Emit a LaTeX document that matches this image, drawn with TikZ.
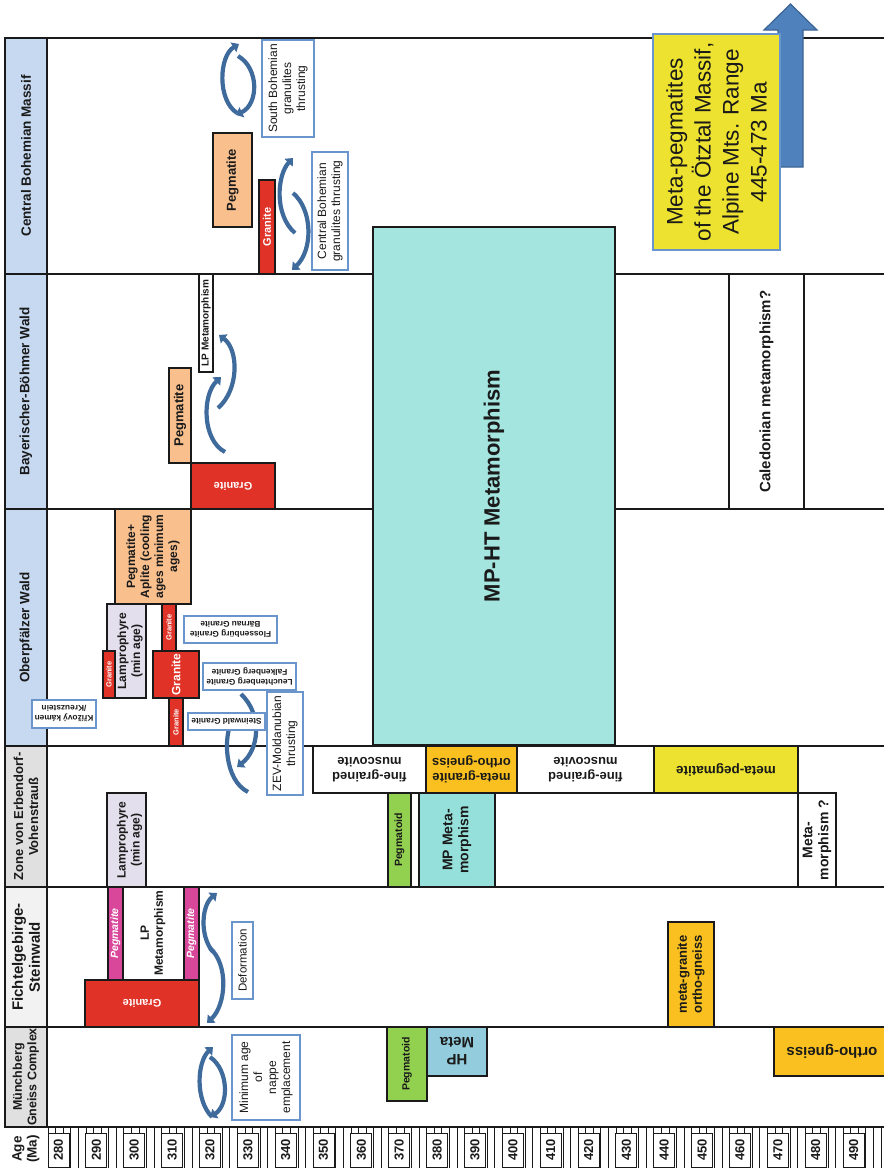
\documentclass[tikz,border=0pt]{standalone}
\usepackage{fontspec}
\setmainfont{Liberation Sans}
\usetikzlibrary{arrows.meta}
\definecolor{hdrblue}{HTML}{C6D9F0}
\definecolor{hdrgray}{HTML}{E0E0E0}
\definecolor{hdrlight}{HTML}{F2F2F2}
\definecolor{granred}{HTML}{E03226}
\definecolor{peach}{HTML}{F9C08E}
\definecolor{lav}{HTML}{E4DFEC}
\definecolor{magent}{HTML}{D9479B}
\definecolor{mphtcyan}{HTML}{A5E5E0}
\definecolor{mpcyan}{HTML}{95E0DA}
\definecolor{hpblue}{HTML}{93CDDD}
\definecolor{pgreen}{HTML}{92D050}
\definecolor{orng}{HTML}{F9C01F}
\definecolor{ylw}{HTML}{ECE22F}
\definecolor{arrblue}{HTML}{3F6B9C}
\definecolor{bigarr}{HTML}{4F81BD}
\definecolor{bigarredge}{HTML}{3C6494}
\definecolor{lblblue}{HTML}{6A95CC}
\definecolor{ink}{HTML}{1A1A1A}
\newcommand\fsz[2]{\fontsize{#1}{#2}\selectfont}
\newcommand\bx[8]{%
  \pgfmathsetmacro\bxw{#5-(#3)}%
  \pgfmathsetmacro\bxh{#6-(#4)}%
  \pgfmathsetmacro\bxx{(#3+#5)/2}%
  \pgfmathsetmacro\bxy{(#4+#6)/2}%
  \node[#2, minimum width=\bxw pt, minimum height=\bxh pt] (#1) at (\bxx,\bxy) {};%
  \node[#7] at (#1.center) {#8};%
}
\begin{document}
\begin{tikzpicture}[x=1pt,y=-1pt,
  blk/.style={draw=ink, line width=2pt, inner sep=0pt, outer sep=0pt},
  lbl/.style={draw=lblblue, line width=1.2pt, fill=white, inner sep=0pt, outer sep=0pt},
  t90/.style={rotate=90, align=center, text=ink, inner sep=0pt},
  t180/.style={rotate=180, align=center, text=ink, inner sep=0pt},
  w90/.style={rotate=90, align=center, text=white, inner sep=0pt},
  w180/.style={rotate=180, align=center, text=white, inner sep=0pt},
  cyc/.style={draw=arrblue, line width=4.2pt, -{Triangle[length=6.5pt,width=11pt]}},
  rowline/.style={draw=ink, line width=2pt}]
\useasboundingbox (0,0) rectangle (884,1168);
\fill[white] (0,0) rectangle (884,1168);

% ---------- row lines ----------
\foreach \yy in {38,274,509,746,887,1027,1127} \draw[rowline] (47,\yy) -- (884,\yy);

% ---------- headers ----------
\bx{hCBM}{blk,fill=hdrblue}{5}{38}{47}{274}{t90,font=\bfseries\fsz{13.5}{16}}{Central Bohemian Massif}
\bx{hBBW}{blk,fill=hdrblue}{5}{274}{47}{509}{t90,font=\bfseries\fsz{13.5}{16}}{Bayerischer-Böhmer Wald}
\bx{hOW}{blk,fill=hdrblue}{5}{509}{47}{746}{t90,font=\bfseries\fsz{13.5}{16}}{Oberpfälzer Wald}
\bx{hZEV}{blk,fill=hdrgray}{5}{746}{47}{887}{t90,font=\bfseries\fsz{13}{15}}{Zone von Erbendorf-\\Vohenstrauß}
\bx{hFS}{blk,fill=hdrlight}{5}{887}{47}{1027}{t90,font=\bfseries\fsz{15}{17}}{Fichtelgebirge-\\Steinwald}
\bx{hMGC}{blk,fill=hdrgray}{5}{1027}{47}{1127}{t90,font=\bfseries\fsz{12.5}{14.5}}{Münchberg\\Gneiss Complex}

% ---------- age axis ----------
\node[t90,font=\bfseries\fsz{13.5}{15}] (agelbl) at (26,1149) {Age\\(Ma)};
\foreach \k in {0,...,110} \draw[ink,line width=0.6pt] ({48+7.572*\k},1127) -- ({48+7.572*\k},1168);
\foreach \a in {280,290,...,490} {
  \pgfmathsetmacro\ax{58.5+3.786*(\a-280)}
  \node[draw=ink, line width=1pt, fill=white, minimum width=21pt, minimum height=34pt, inner sep=0pt] (age\a) at (\ax,1150) {};
  \node[t90,font=\bfseries\fsz{13}{14}] at (age\a) {\a};
}

% ---------- big arrow + Oetztal box ----------
\draw[fill=bigarr, draw=bigarredge, line width=1.2pt] (778,167) -- (778,30) -- (764,30) -- (790.5,4) -- (817,30) -- (803,30) -- (803,167) -- cycle;
\bx{otz}{fill=ylw, draw=lblblue, line width=2.2pt, inner sep=0pt}{653}{34}{780}{250}{t90,font=\fsz{22.5}{28}}{Meta-pegmatites\\of the Ötztal Massif,\\Alpine Mts. Range\\445-473 Ma}

% ---------- MP-HT ----------
\bx{mpht}{blk,fill=mphtcyan}{373}{227}{615}{745}{t90,font=\bfseries\fsz{22}{25}}{MP-HT Metamorphism}

% ---------- Central Bohemian Massif ----------
\bx{cbPeg}{blk,fill=peach}{213}{133}{252}{227}{t90,font=\bfseries\fsz{13}{15}}{Pegmatite}
\bx{cbGra}{blk,fill=granred}{259}{180}{275}{274}{w90,font=\bfseries\fsz{11}{13}}{Granite}

% ---------- Bayerischer-Boehmer Wald ----------
\bx{bbLP}{blk,fill=white}{199}{274}{213}{372}{t90,font=\bfseries\fsz{10}{12}}{LP Metamorphism}
\bx{bbPeg}{blk,fill=peach}{169}{368}{191}{463}{t90,font=\bfseries\fsz{13}{15}}{Pegmatite}
\bx{bbGra}{blk,fill=granred}{191}{463}{275}{509}{w180,font=\bfseries\fsz{11}{13}}{Granite}
\bx{cal}{blk,fill=white}{729}{274}{804}{509}{t90,font=\bfseries\fsz{15}{17}}{Caledonian metamorphism?}

% ---------- Oberpfaelzer Wald ----------
\bx{owPA}{blk,fill=peach}{115}{509}{191}{604}{t90,font=\bfseries\fsz{12}{14}}{Pegmatite+\\Aplite (cooling\\ages minimum\\ages)}
\bx{owLam}{blk,fill=lav}{107}{604}{146}{698}{t90}{}
\node[t90,font=\bfseries\fsz{12}{14}] (owLamT) at (130,651) {Lamprophyre\\(min age)};
\bx{owG1}{blk,fill=granred}{103}{651}{115}{698}{w90,font=\bfseries\fsz{7.5}{9}}{Granite}
\bx{owG2}{blk,fill=granred}{162}{604}{176}{651}{w90,font=\bfseries\fsz{7.5}{9}}{Granite}
\bx{owG3}{blk,fill=granred}{153}{651}{199}{698}{w90,font=\bfseries\fsz{12}{14}}{Granite}
\bx{owG4}{blk,fill=granred}{169}{698}{183}{746}{w90,font=\bfseries\fsz{7.5}{9}}{Granite}

% ---------- Zone von Erbendorf-Vohenstrauss ----------
\bx{zLam}{blk,fill=lav}{107}{793}{146}{887}{t90}{}
\node[t90,font=\bfseries\fsz{12}{14}] (zLamT) at (129.5,840) {Lamprophyre\\(min age)};
\bx{zFg1}{blk,fill=white}{313}{746}{426}{793}{t180,font=\bfseries\fsz{13}{15}}{fine-grained\\muscovite}
\bx{zMg}{blk,fill=orng}{426}{746}{517}{793}{t180,font=\bfseries\fsz{13}{15}}{meta-granite\\ortho-gneiss}
\bx{zFg2}{blk,fill=white}{517}{746}{654}{793}{t180,font=\bfseries\fsz{13}{15}}{fine-grained\\muscovite}
\bx{zMp}{blk,fill=ylw}{654}{746}{798}{793}{t180,font=\bfseries\fsz{13.5}{15}}{meta-pegmatite}
\bx{zPgd}{blk,fill=pgreen}{388}{793}{411}{887}{t90,font=\bfseries\fsz{10.5}{12}}{Pegmatoid}
\bx{zMP}{blk,fill=mpcyan}{419}{793}{495}{887}{t90,font=\bfseries\fsz{14}{16}}{MP Meta-\\morphism}
\bx{zMet}{blk,fill=white}{798}{793}{836}{887}{t90,font=\bfseries\fsz{14}{16}}{Meta-\\morphism ?}

% ---------- Fichtelgebirge-Steinwald ----------
\bx{fP1}{blk,fill=magent}{108}{887}{123}{980}{w90,font=\bfseries\itshape\fsz{10.5}{12}}{Pegmatite}
\bx{fP2}{blk,fill=magent}{184}{887}{199}{980}{w90,font=\bfseries\itshape\fsz{10.5}{12}}{Pegmatite}
\node[t90,font=\bfseries\fsz{12}{14}] (fLP) at (153,933) {LP\\Metamorphism};
\bx{fGra}{blk,fill=granred}{85}{980}{199}{1027}{w180,font=\bfseries\fsz{11}{13}}{Granite}
\bx{fMg}{blk,fill=orng}{668}{922}{714}{1027}{t90,font=\bfseries\fsz{13}{15}}{meta-granite\\ortho-gneiss}

% ---------- Muenchberg ----------
\bx{mPgd}{blk,fill=pgreen}{387}{1027}{427}{1101}{t90,font=\bfseries\fsz{10.5}{12}}{Pegmatoid}
\bx{mHP}{blk,fill=hpblue}{427}{1027}{487}{1076}{t180,font=\bfseries\fsz{15}{17}}{HP\\Meta}
\bx{mOg}{blk,fill=orng}{774}{1027}{890}{1076}{t180,font=\bfseries\fsz{15}{17}}{ortho-gneiss}

% ---------- curved arrows ----------
\draw[cyc] (237,113) .. controls (217,100) and (219,56) .. (239,44);
\draw[cyc] (238,56) .. controls (259,68) and (259,104) .. (236,115);
\draw[cyc] (295,233) .. controls (274,215) and (277,175) .. (293,158);
\draw[cyc] (293,193) .. controls (313,210) and (313,250) .. (292,270);
\draw[cyc] (218,408) .. controls (239,390) and (239,350) .. (219,335);
\draw[cyc] (225,452) .. controls (202,440) and (202,395) .. (221,377);
\draw[cyc] (241,694) .. controls (263,715) and (259,750) .. (237,767);
\draw[cyc] (248,792) .. controls (224,780) and (223,735) .. (236,715);
\draw[cyc] (213,952) .. controls (199,935) and (202,905) .. (217,893);
\draw[cyc] (210,948) .. controls (229,965) and (226,1005) .. (207,1023);
\draw[cyc] (212,1117) .. controls (195,1100) and (197,1062) .. (213,1047);
\draw[cyc] (210,1057) .. controls (229,1070) and (229,1105) .. (210,1117);

% ---------- label boxes ----------
\bx{lSB}{lbl}{262}{40}{314}{137}{t90,font=\fsz{12}{14}}{South Bohemian\\granulites\\thrusting}
\bx{lCB}{lbl}{312}{152}{348}{270}{t90,font=\fsz{12}{14}}{Central Bohemian\\granulites thrusting}
\bx{lFl}{lbl}{184}{616}{277}{643}{t180,font=\bfseries\fsz{8.3}{10}}{Flossenbürg Granite\\Bärnau Granite}
\bx{lLe}{lbl}{203}{663}{296}{690}{t180,font=\bfseries\fsz{8.3}{10}}{Leuchtenberg Granite\\Falkenberg Granite}
\bx{lSt}{lbl}{188}{713}{265}{730}{t180,font=\bfseries\fsz{8.3}{10}}{Steinwald Granite}
\bx{lKr}{lbl}{32}{700}{96}{728}{t180,font=\bfseries\fsz{8.3}{10}}{Křížový kámen\\/Kreuzstein}
\bx{lZEV}{lbl}{267}{692}{303}{795}{t90,font=\fsz{12}{14}}{ZEV-Moldanubian\\thrusting}
\bx{lDef}{lbl}{232}{922}{253}{999}{t90,font=\fsz{11.5}{13}}{Deformation}
\bx{lMin}{lbl}{232}{1035}{300}{1120}{t90,font=\fsz{12}{14}}{Minimum age\\of\\nappe\\emplacement}
\end{tikzpicture}
\end{document}
